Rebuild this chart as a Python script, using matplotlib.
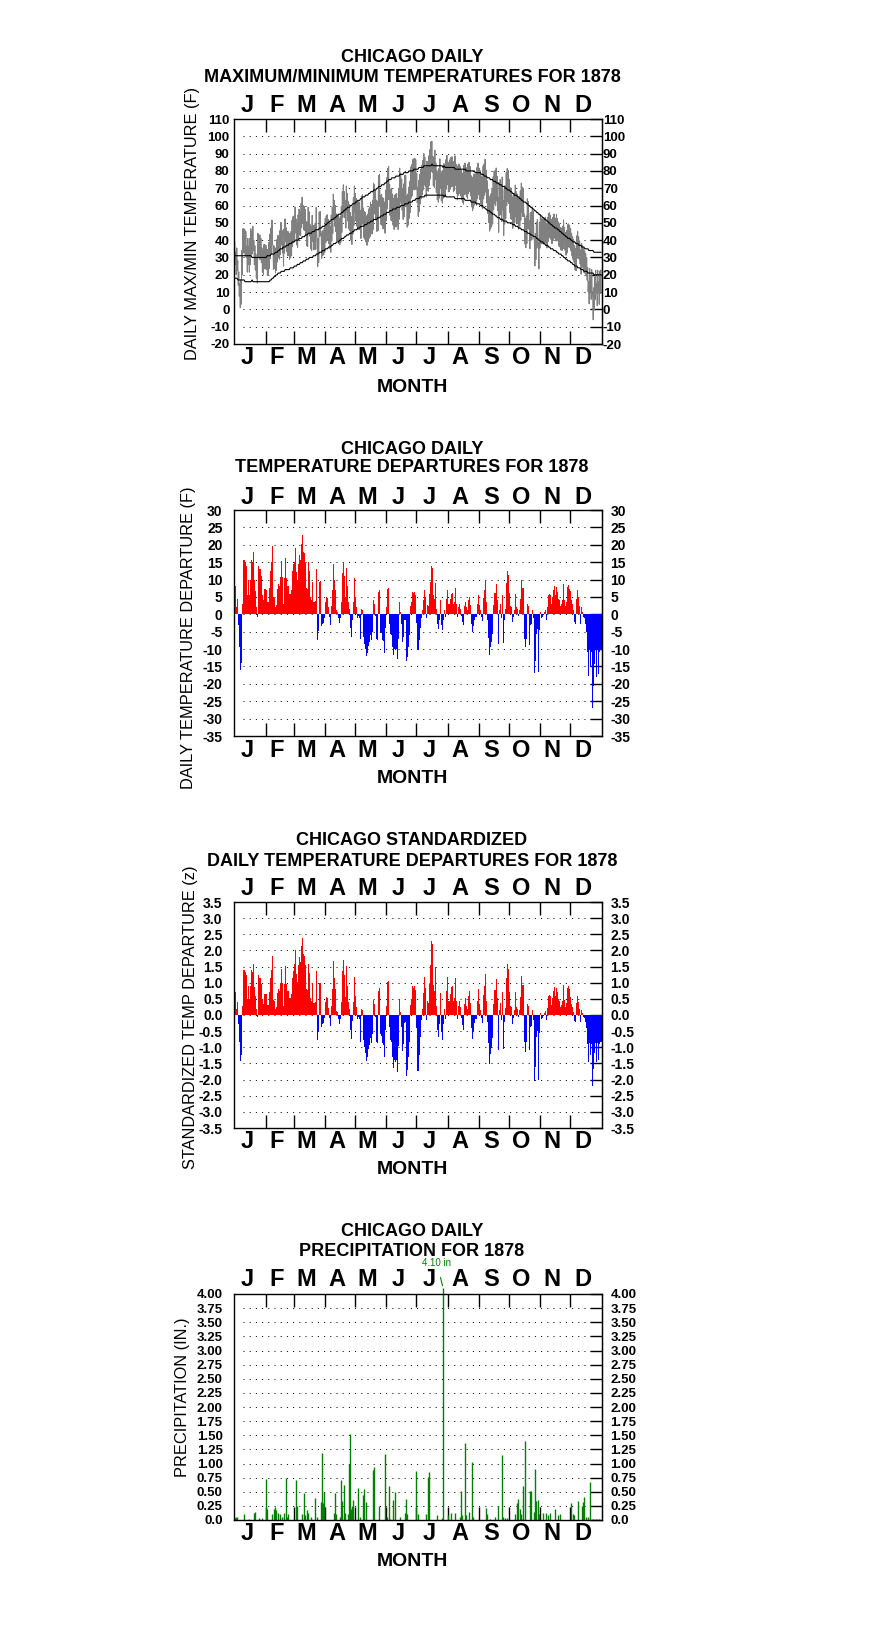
import numpy as np
import matplotlib
matplotlib.use("Agg")
import matplotlib.pyplot as plt
from matplotlib import transforms

plt.rcParams['font.family'] = ['Liberation Sans', 'DejaVu Sans']

# ---------------------------------------------------------------- data
month_letters = ['J', 'F', 'M', 'A', 'M', 'J', 'J', 'A', 'S', 'O', 'N', 'D']
month_days = [31, 28, 31, 30, 31, 30, 31, 31, 30, 31, 30, 31]

# daily normal maximum temperature (F), one list per month
normal_max = [
    [31, 31, 31, 31, 31, 31, 31, 31, 31, 31, 31, 31, 31, 31, 31, 31, 31, 30, 30, 30, 30, 30, 30, 30, 30, 30, 30, 30, 30, 30, 30],
    [30, 31, 31, 31, 31, 32, 32, 32, 32, 33, 33, 33, 34, 34, 35, 35, 35, 36, 36, 36, 37, 37, 37, 38, 38, 38, 39, 39],
    [39, 40, 40, 40, 40, 41, 41, 41, 42, 42, 42, 43, 43, 43, 44, 44, 44, 44, 45, 45, 45, 46, 46, 46, 46, 47, 47, 47, 48, 48, 48],
    [49, 49, 50, 50, 51, 51, 52, 52, 52, 53, 53, 54, 54, 55, 55, 55, 56, 56, 57, 57, 58, 58, 59, 59, 59, 60, 60, 61, 61, 61],
    [62, 62, 63, 63, 63, 64, 64, 65, 65, 65, 66, 66, 66, 67, 67, 68, 68, 68, 69, 69, 69, 70, 70, 71, 71, 71, 72, 72, 72, 73, 73],
    [74, 74, 75, 75, 75, 76, 76, 76, 76, 77, 77, 77, 77, 78, 78, 78, 78, 79, 79, 79, 79, 79, 80, 80, 80, 80, 80, 81, 81, 81],
    [81, 81, 82, 82, 82, 82, 82, 83, 83, 83, 83, 83, 83, 83, 83, 84, 83, 83, 83, 83, 83, 83, 83, 83, 83, 83, 82, 83, 82, 82, 82],
    [82, 82, 82, 82, 82, 82, 82, 81, 81, 81, 81, 81, 81, 81, 81, 81, 81, 81, 80, 80, 80, 80, 80, 80, 80, 80, 80, 79, 79, 79, 79],
    [79, 79, 78, 78, 78, 77, 77, 77, 76, 76, 76, 75, 75, 75, 74, 74, 74, 73, 73, 73, 72, 72, 72, 71, 71, 71, 70, 70, 69, 69],
    [69, 68, 68, 67, 67, 66, 66, 66, 65, 65, 64, 64, 63, 63, 62, 62, 62, 61, 61, 60, 60, 59, 59, 58, 58, 57, 57, 56, 56, 55, 55],
    [54, 54, 53, 53, 52, 52, 51, 51, 50, 50, 49, 49, 48, 48, 47, 47, 47, 46, 46, 45, 45, 44, 44, 43, 43, 42, 42, 41, 41, 41],
    [40, 40, 39, 39, 39, 38, 38, 38, 37, 37, 37, 36, 36, 36, 35, 35, 35, 35, 34, 34, 34, 34, 34, 33, 33, 33, 33, 33, 33, 33, 33],
]

# daily normal minimum temperature (F)
normal_min = [
    [18, 18, 18, 17, 17, 17, 17, 17, 17, 17, 16, 16, 16, 16, 16, 16, 16, 17, 16, 16, 16, 16, 16, 16, 16, 16, 16, 16, 16, 16, 16],
    [16, 16, 16, 16, 17, 17, 18, 18, 19, 19, 20, 20, 21, 21, 21, 22, 22, 22, 22, 23, 23, 23, 23, 23, 24, 24, 24, 24],
    [25, 25, 25, 26, 26, 26, 27, 27, 27, 28, 28, 28, 29, 29, 29, 30, 30, 30, 30, 31, 31, 31, 32, 32, 32, 33, 33, 33, 34, 34, 34],
    [35, 35, 35, 36, 36, 36, 37, 37, 38, 38, 38, 39, 39, 39, 40, 40, 41, 41, 41, 42, 42, 43, 43, 43, 44, 44, 44, 45, 45, 46],
    [46, 46, 47, 47, 47, 48, 48, 48, 48, 49, 49, 49, 50, 50, 50, 51, 51, 51, 52, 52, 52, 52, 53, 53, 53, 54, 54, 54, 55, 55, 55],
    [56, 56, 56, 57, 57, 57, 58, 58, 58, 58, 59, 59, 59, 59, 60, 60, 60, 60, 61, 61, 61, 61, 62, 62, 62, 62, 63, 63, 63, 64],
    [64, 64, 64, 65, 65, 65, 65, 65, 66, 66, 66, 66, 66, 66, 66, 66, 66, 66, 66, 66, 66, 66, 66, 66, 66, 66, 66, 65, 66, 65, 65],
    [65, 65, 65, 65, 65, 65, 65, 64, 64, 64, 64, 64, 64, 64, 64, 64, 64, 63, 63, 63, 63, 63, 63, 62, 62, 62, 62, 62, 61, 61, 61],
    [61, 60, 60, 60, 59, 59, 58, 58, 57, 57, 57, 56, 56, 55, 55, 55, 54, 54, 53, 53, 53, 52, 52, 52, 51, 51, 51, 51, 50, 50],
    [50, 50, 50, 49, 49, 49, 48, 48, 48, 47, 47, 47, 46, 46, 46, 45, 45, 45, 44, 44, 44, 43, 43, 43, 42, 42, 42, 41, 41, 40, 40],
    [39, 39, 39, 38, 38, 37, 37, 37, 36, 36, 35, 35, 35, 34, 34, 34, 33, 33, 32, 32, 32, 31, 31, 30, 30, 29, 29, 28, 28, 28],
    [27, 27, 26, 26, 25, 25, 25, 24, 24, 24, 23, 23, 23, 22, 22, 22, 22, 21, 21, 21, 21, 21, 21, 20, 20, 20, 20, 20, 20, 20, 20],
]

# daily mean temperature departure from normal (F)
departure = [
    [8, 2, 4.5, -3, -9.4, -16, -14, 3, 15.6, 15.6, 15, 14, 5.5, 10, 5.5, 10, 15.6, 15, 18, 9.8, 6.7, 2, -0.8, 14, 13, 13, 11, 5.5, 4, 7.4, 7.4],
    [7, 3.5, 3.5, 7.7, 12.4, 15, 19.6, 5, 4.7, 2, 2.6, 7.4, 8.8, 8, 10.6, 15.3, 10.6, 3, 10.5, 16.3, 10.3, 8, 8, 5.8, 5.8, 7, 12.5, 14.6],
    [15, 19.2, 12.2, 9.8, 14.6, 17, 15.6, 20.2, 22.8, 18, 17.5, 14.8, 7.7, 7.4, 15, 12.4, 5, 4, 9.3, 3.5, 3.5, 3.8, 12.9, -7.3, -4.9, 9.3, 9.5, -3.5, -2.7, -2.5, -1],
    [3.5, 5, 4.7, 2, -0.8, -3, 2.5, 7, 14.6, 10, 7, 1.2, 0.7, -1, -2.5, -1.2, 3.5, 12, 15, 11, 5, 13.3, 8, 3.5, 1.5, -4, -6.5, -1.5, 3.5, 10.3],
    [5, 2, -1, -0.5, -1, -7, 1.5, 1.2, -6.5, -8.5, -10, -12, -11, -9, -8, -6, -7.5, -5, 4, 3, -0.5, -7, -7.5, 6.4, 7.1, -5, -5.5, -7.5, -7.8, -11, -4],
    [2, 7.4, 7.6, -2.7, -5.6, -6, -9.4, -11.8, -10, -10.4, -10, -12.8, -7, 3.6, 0.7, -2.7, -8, -6.5, -1.7, -1.5, -13.5, -12.3, -9.4, -6, 2.3, 3.6, 6.5, 6, 6.4, 5.5],
    [-2.5, -10.4, -7.5, -4, -1, 1.2, 4, 7, 5, -1, 2.6, 2.3, 5.7, 9.3, 13.8, 13.2, 5.5, 4.5, 9, 1.6, -2.7, -4.1, -1.7, 4, -3.2, -4.6, -1.7, 1.2, -0.8, 4.5, 7],
    [3, 3, 4.5, 5.8, 6.2, 3, 3.6, 7.7, 3, -0.8, 2, 3, 1.6, -0.6, -2.2, -3.2, 2.3, 3.6, 2, 1.2, 4, 5, 2.6, -2.7, -5, -3.5, -1.7, -0.8, -0.8, 3, 5.5],
    [2.6, 1.2, -0.8, -2, 4.8, 7, 9.8, 3.5, -1.7, -6.7, -11.8, -9.4, -8, -5.6, 2.6, 6, 6, 8.7, 4, -8.5, 1.3, 3, -1.2, 5.5, -8.3, -1.7, 1.6, 9, 12.4, 11.2],
    [6, 2.3, 2, -2.2, -0.8, 1.2, 5.8, 2, 1.6, -0.6, 1.2, 4.5, 10, 7.7, 7.7, -7, -9.4, -7, 2.9, 2.3, -8.9, -3.2, -2.7, 1.2, -1.2, -16.9, -13.3, -5.6, -4.1, -16.6, -4.6],
    [0.7, -1.2, -0.8, -0.3, 0.7, 1.2, -1.5, 2, 5.5, 5.8, 5.5, 2.9, 5, 7, 8, 5.5, 7.9, 6.5, 4.5, 4, 2.3, 3, 4, 8.7, 4.2, 2.3, 3.6, 7.9, 8.4, 7.4],
    [6.7, 4, 2.9, 1.3, -2.2, -2.7, 4.5, 7, 5, 2.3, -2.7, 2, 0.7, -0.8, -1.2, -2.7, -5.1, -10.9, -17.8, -10.4, -15.2, -10.9, -27, -20.5, -14.2, -10.4, -17.9, -10.4, -17.1, -10.9, -10.2],
]

# standard deviation of daily mean temperature (F) by month, used for z
monthly_sd = [11.3, 10.8, 9.5, 8.8, 8.5, 7.2, 6.0, 6.8, 7.8, 8.3, 9.3, 12.2]

# days of year (0 = Jan 1) with precipitation, and amounts (in.)
rain_day = [0, 1, 2, 9, 14, 19, 20, 24, 27, 31, 32, 37, 39, 40, 41, 43, 45, 47, 49, 51,
            52, 53, 61, 62, 67, 69, 70, 72, 73, 76, 80, 82, 86, 87, 88, 89, 98, 99, 100, 104,
            105, 106, 108, 109, 112, 113, 114, 115, 116, 117, 122, 124, 127, 128, 130, 137, 138, 143, 149, 151,
            153, 154, 157, 159, 164, 169, 170, 171, 180, 182, 190, 192, 193, 201, 206, 207, 212, 215, 219, 224,
            225, 226, 229, 230, 233, 236, 237, 250, 251, 254, 259, 262, 266, 267, 269, 271, 278, 280, 281, 283,
            284, 285, 286, 288, 293, 294, 297, 298, 299, 301, 302, 306, 309, 311, 313, 318, 321, 323, 334, 336,
            337, 341, 345, 346, 347, 349, 351, 353, 356, 359, 362]
rain_in = [0.03, 0.05, 0.06, 0.10, 0.02, 0.12, 0.15, 0.03, 0.04, 0.72, 0.20, 0.10, 0.20, 0.23, 0.18, 0.12, 0.10, 0.05, 0.12, 0.74,
           0.05, 0.10, 0.71, 0.25, 0.10, 0.48, 0.08, 0.18, 0.12, 0.05, 0.39, 0.05, 0.32, 1.19, 0.30, 0.50, 0.12, 0.48, 0.10, 0.05,
           0.70, 0.33, 0.62, 0.12, 0.10, 1.00, 1.53, 0.20, 0.25, 0.35, 0.57, 0.05, 0.45, 0.55, 0.32, 0.88, 0.93, 0.24, 1.17, 0.05,
           0.60, 0.02, 0.35, 0.50, 0.05, 0.12, 0.38, 0.10, 0.87, 0.10, 0.10, 0.76, 0.85, 0.08, 0.03, 4.10, 0.08, 0.12, 0.12, 0.05,
           0.52, 0.08, 1.36, 0.08, 0.14, 1.03, 0.05, 0.22, 0.10, 0.02, 0.05, 0.25, 1.15, 0.05, 0.03, 0.03, 0.10, 0.30, 0.37, 0.20,
           0.10, 0.02, 0.60, 1.40, 0.52, 0.52, 0.15, 0.90, 0.33, 0.35, 0.10, 0.12, 0.12, 0.08, 0.12, 0.20, 0.08, 0.10, 0.30, 0.10,
           0.08, 0.33, 0.25, 0.32, 0.40, 0.05, 0.05, 0.68, 0.02, 0.02, 0.02]

# ---------------------------------------------------------------- layout
W, H = 876, 1634
AX_LEFT, AX_WIDTH = 234.5, 367.0
TITLE_X = 412


def fx(px):
    return px / W


def fy(py):
    return 1 - py / H


def setup_panel(fig, cfg, ticks, labels, lpad, rpad, fs):
    """Create one panel with the month frame, dotted grid and both tick label columns."""
    top, bot = cfg['box']
    ax = fig.add_axes([fx(AX_LEFT), fy(bot), fx(AX_WIDTH), (bot - top) / H])
    ax.set_xlim(0, 365)
    ax.set_ylim(ticks[0], ticks[-1])
    for sp in ax.spines.values():
        sp.set_linewidth(1.0)

    bounds = np.cumsum([0] + month_days)
    ax.set_xticks(bounds[1:-1])
    ax.tick_params(axis='x', direction='in', top=True, bottom=True, length=9.4,
                   width=1.0, labelbottom=False)

    ax.set_yticks(ticks)
    ax.set_yticklabels(labels, fontweight='bold', fontsize=fs)
    ax.tick_params(axis='y', direction='in', left=False, right=False, pad=lpad)

    sec = ax.secondary_yaxis('right')
    sec.set_yticks(ticks)
    sec.set_yticklabels(labels, fontweight='bold', fontsize=fs)
    sec.tick_params(direction='in', length=8.6, width=1.0, pad=rpad)

    ax.hlines(ticks[1:-1], 8, 356, colors='black', linestyles=(0, (1, 5.2)),
              linewidth=0.72, zorder=1)

    # month letters above and below, MONTH label
    trans = transforms.blended_transform_factory(ax.transData, fig.transFigure)
    centers = (bounds[:-1] + bounds[1:]) / 2 - 3
    for c, m in zip(centers, month_letters):
        for yy in (cfg['mtop'], cfg['mbot']):
            ax.text(c, fy(yy), m, transform=trans, ha='center', va='center',
                    fontsize=17, fontweight='bold')
    fig.text(fx(TITLE_X), fy(cfg['month_y']), 'MONTH', ha='center', va='center',
             fontsize=14, fontweight='bold')

    for line, yy in zip(cfg['title'], cfg['title_y']):
        fig.text(fx(TITLE_X), fy(yy), line, ha='center', va='center',
                 fontsize=13, fontweight='bold')

    lx, ly = cfg['ylab']
    fig.text(fx(lx), fy(ly), cfg['ylabel'], rotation=90, ha='center', va='center',
             fontsize=11.8)
    return ax


def main():
    nmax = np.concatenate([np.array(m, float) for m in normal_max])
    nmin = np.concatenate([np.array(m, float) for m in normal_min])
    dep = np.concatenate([np.array(m, float) for m in departure])
    assert len(nmax) == len(nmin) == len(dep) == 365, (len(nmax), len(nmin), len(dep))
    assert len(rain_day) == len(rain_in), (len(rain_day), len(rain_in))

    days = np.arange(365) + 0.5
    sd = np.repeat(monthly_sd, month_days)
    zscore = dep / sd
    tmax = nmax + dep
    tmin = nmin + dep

    fig = plt.figure(figsize=(W / 100, H / 100), dpi=100)
    fig.patch.set_facecolor('white')

    # ---- panel 1: max / min
    cfg1 = dict(box=(119, 344), title=['CHICAGO DAILY', 'MAXIMUM/MINIMUM TEMPERATURES FOR 1878'],
                title_y=[57, 77], mtop=106, mbot=358, month_y=387,
                ylabel='DAILY MAX/MIN TEMPERATURE (F)', ylab=(192, 224))
    t1 = np.arange(-20, 111, 10)
    ax1 = setup_panel(fig, cfg1, t1, [str(v) for v in t1], 3.6, 1.0, 9.5)
    zig_x = np.column_stack([days - 0.25, days + 0.25]).ravel()
    zig_y = np.column_stack([tmax, tmin]).ravel()
    ax1.plot(zig_x, zig_y, color='#808080', linewidth=0.75, zorder=2)
    ax1.plot(days, nmax, color='black', linewidth=0.8, zorder=3)
    ax1.plot(days, nmin, color='black', linewidth=0.8, zorder=3)

    # ---- panel 2: departures
    cfg2 = dict(box=(510, 736), title=['CHICAGO DAILY', 'TEMPERATURE DEPARTURES FOR 1878'],
                title_y=[449, 468], mtop=497, mbot=750, month_y=778,
                ylabel='DAILY TEMPERATURE DEPARTURE (F)', ylab=(188, 638))
    t2 = np.arange(-35, 31, 5)
    ax2 = setup_panel(fig, cfg2, t2, [str(v) for v in t2], 8.6, 6.5, 10)
    ax2.bar(days, dep, width=1.0, color=np.where(dep >= 0, '#ff0000', '#0000ff'),
            linewidth=0, zorder=2)

    # ---- panel 3: standardized departures
    cfg3 = dict(box=(902, 1128), title=['CHICAGO STANDARDIZED', 'DAILY TEMPERATURE DEPARTURES FOR 1878'],
                title_y=[841, 861], mtop=888, mbot=1142, month_y=1170,
                ylabel='STANDARDIZED TEMP DEPARTURE (z)', ylab=(191, 1017))
    t3 = np.arange(-7, 8) * 0.5
    ax3 = setup_panel(fig, cfg3, t3, [f'{v:.1f}' for v in t3], 8.6, 6.5, 10)
    ax3.bar(days, zscore, width=1.0, color=np.where(zscore >= 0, '#ff0000', '#0000ff'),
            linewidth=0, zorder=2)

    # ---- panel 4: precipitation
    cfg4 = dict(box=(1294, 1520), title=['CHICAGO DAILY', 'PRECIPITATION FOR 1878'],
                title_y=[1232, 1252], mtop=1280, mbot=1533, month_y=1562,
                ylabel='PRECIPITATION (IN.)', ylab=(183, 1397))
    t4 = np.arange(0, 17) * 0.25
    lab4 = ['0.0' if v == 0 else f'{v:.2f}' for v in t4]
    ax4 = setup_panel(fig, cfg4, t4, lab4, 8.6, 6.5, 9.5)
    rd = np.array(rain_day) + 0.5
    ra = np.array(rain_in)
    ax4.vlines(rd, 0, ra, colors='#008000', linewidth=1.0, zorder=2, clip_on=False)
    k = int(np.argmax(ra))
    ax4.annotate(f'{ra[k]:.2f} in', xy=(rd[k], ra[k]), xycoords='data',
                 xytext=(fx(437), fy(1263)), textcoords='figure fraction',
                 ha='center', va='center', fontsize=7, color='#008000',
                 annotation_clip=False,
                 arrowprops=dict(arrowstyle='-', color='#008000', lw=0.8,
                                 shrinkA=5, shrinkB=2))

    fig.savefig('out.png', dpi=100, facecolor='white')


if __name__ == "__main__":
    main()
